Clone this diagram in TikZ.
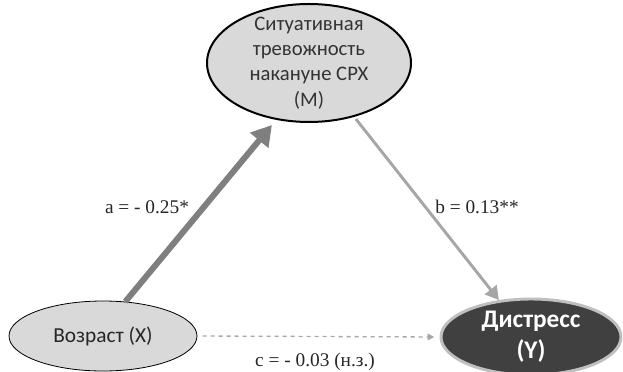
\documentclass[tikz,border=0pt]{standalone}
\usepackage{fontspec}
\setmainfont{Carlito}
\newfontfamily\serifnum{Liberation Serif}
\usetikzlibrary{shapes.geometric,arrows.meta}
\definecolor{lightfill}{HTML}{D9D9D9}
\definecolor{darkfill}{HTML}{404040}
\definecolor{rimgray}{HTML}{BFBFBF}
\definecolor{patha}{HTML}{7F7F7F}
\definecolor{pathb}{HTML}{A6A6A6}
\begin{document}
\begin{tikzpicture}[x=0.75pt,y=0.75pt,
	var/.style={ellipse,inner sep=0pt,fill=lightfill,draw=black,
		font=\fontsize{16}{19}\selectfont},
	coef/.style={font=\serifnum\fontsize{14.5}{17}\selectfont,text=black!85}]
	
	\useasboundingbox (0,0) rectangle (623,371);
	
	% Variables
	\node[var,line width=1.5pt,minimum width=153pt,minimum height=88.5pt,
		label={[align=center,font=\fontsize{15.5}{19}\selectfont,text=black!80]center:Ситуативная\\тревожность\\накануне СРХ\\(M)}] (M) at (309,308) {};
	\node[var,line width=0.6pt,minimum width=141pt,minimum height=52.5pt,text=black!85] (X) at (103,35) {Возраст (X)};
	\node[var,fill=darkfill,draw=rimgray,line width=2.2pt,minimum width=135pt,minimum height=57pt,
		label={[align=center,font=\bfseries\fontsize{19}{23}\selectfont,text=white]center:Дистресс\\(Y)}] (Y) at (531,34) {};
	
	% Paths
	\draw[patha,line width=4.5pt,-{Triangle[length=15pt,width=17pt]},shorten >=5pt] (X.57) -- (M.240);
	\draw[pathb,line width=2.2pt,-{Triangle[length=10pt,width=11pt]},shorten <=2pt] (M.310) -- (Y.131);
	\draw[pathb,line width=1pt,dashed,-{Triangle[length=5pt,width=5pt]},shorten <=4pt,shorten >=4pt] (X.east) -- (Y.west);
	
	% Coefficients
	\node[coef] (la) at (147,164) {a = - 0.25*};
	\node[coef] (lb) at (477,164) {b = 0.13**};
	\node[coef] (lc) at (315,9) {c = - 0.03 (н.з.)};
	
\end{tikzpicture}
\end{document}
